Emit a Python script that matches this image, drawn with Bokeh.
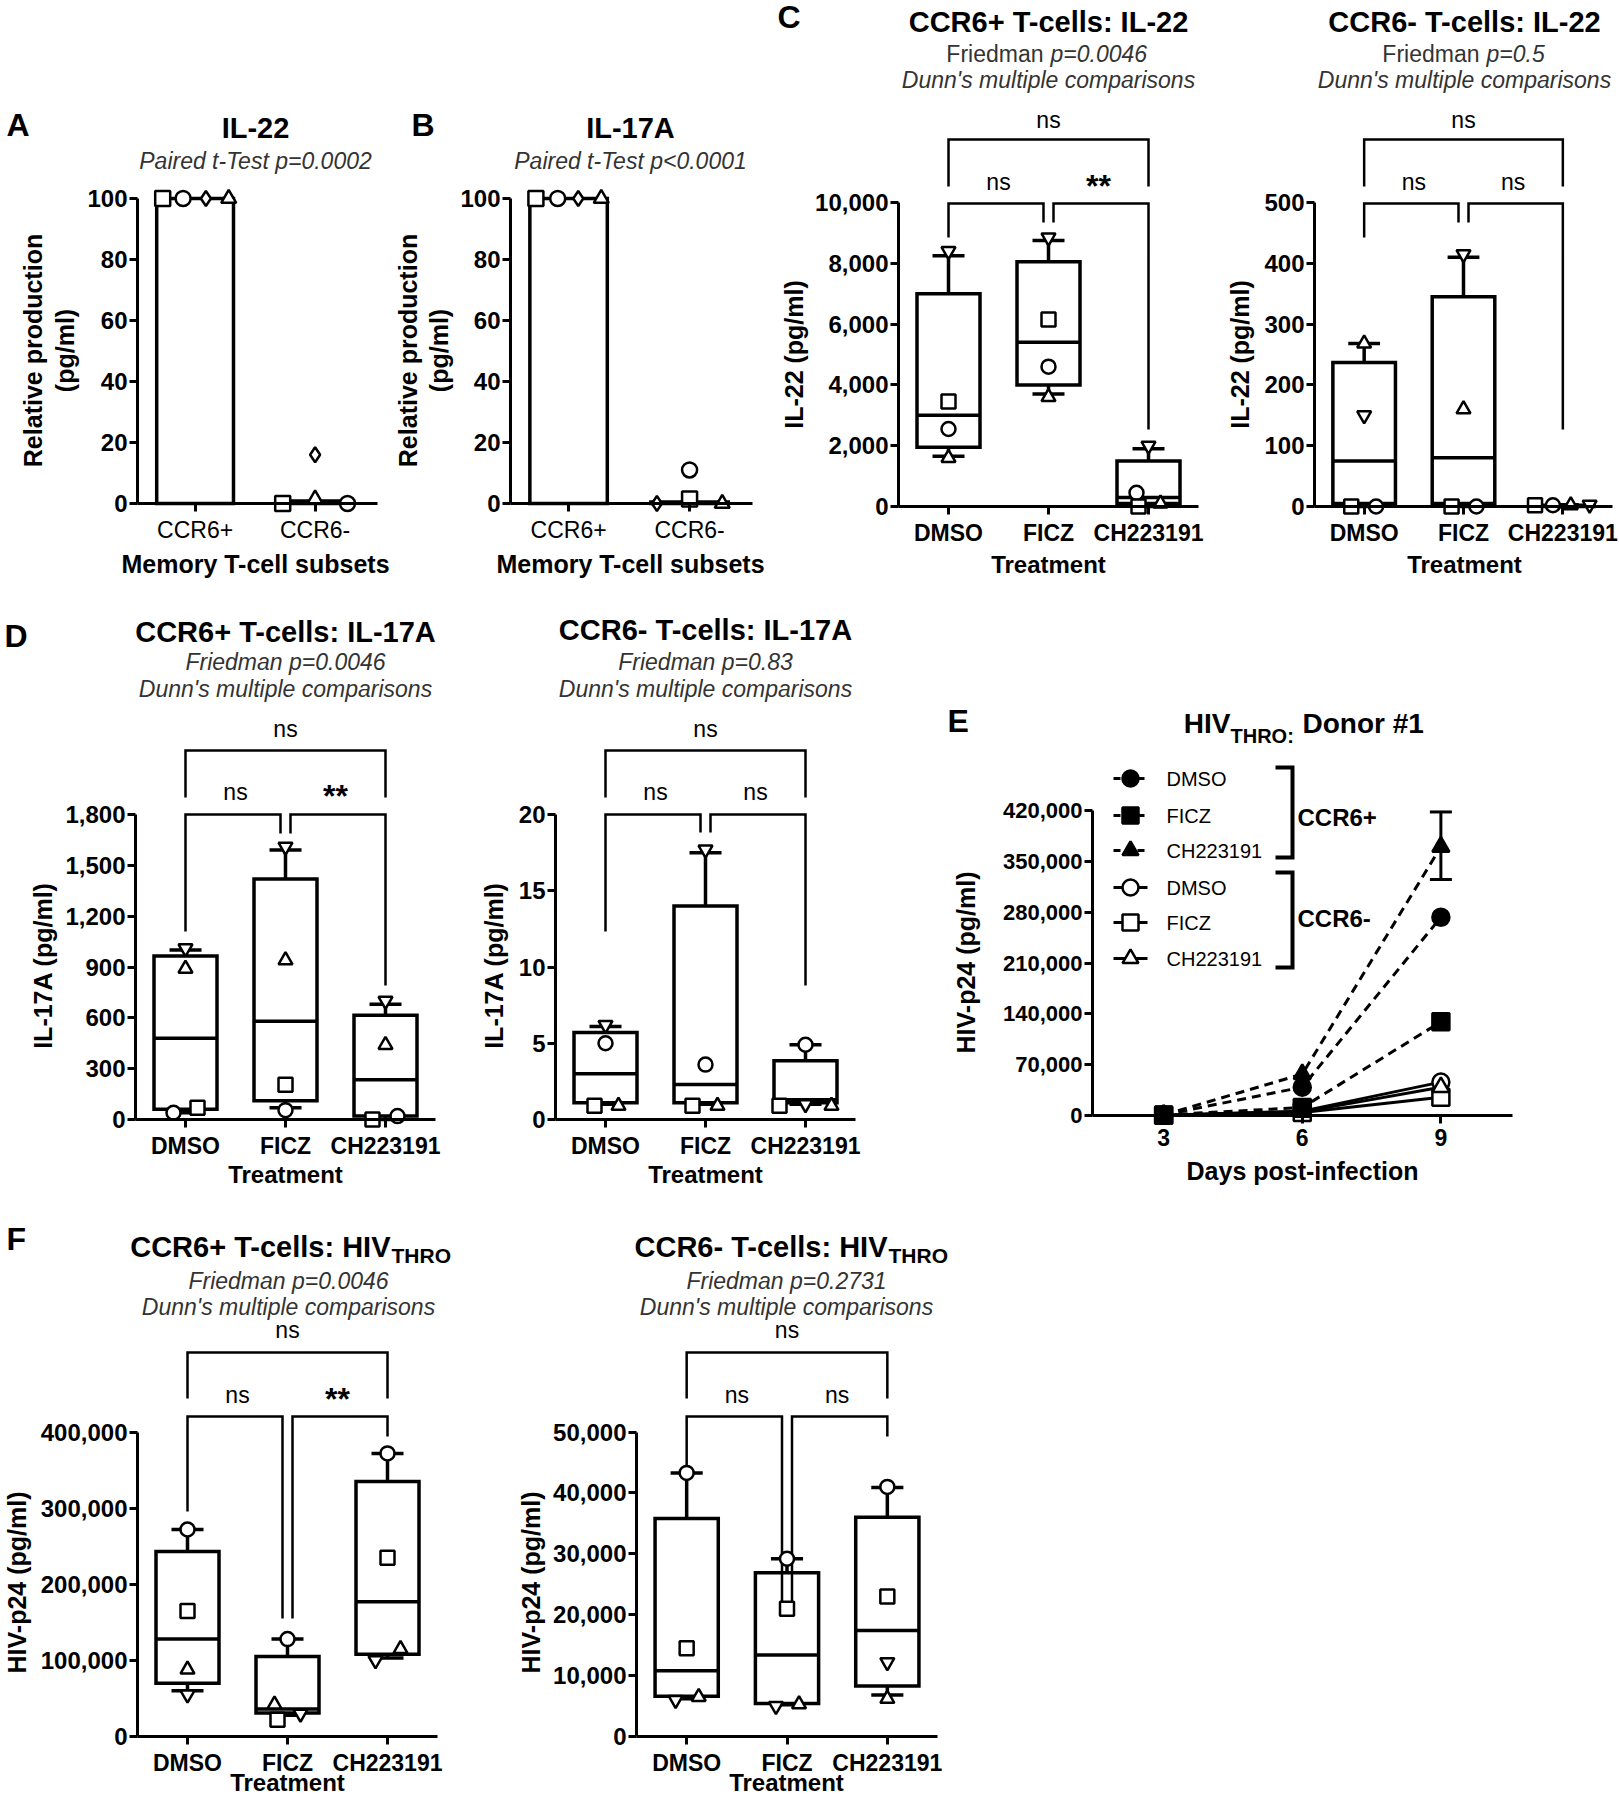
import math
from bokeh.plotting import figure
from bokeh.models import Range1d, FixedTicker, NumeralTickFormatter, Label, ColumnDataSource
from bokeh.layouts import row, column
from bokeh.embed import file_html
from bokeh.resources import INLINE

FONT = "Liberation Sans"
INK = "black"
SUB = "#333333"

# ======================= DATA =======================
# Panels A / B : relative production (% of CCR6+)
subsets = ["CCR6+", "CCR6-"]
subset_markers = ["square", "circle", "diamond", "triangle"]
il22_rel_ccr6pos = [100, 100, 100, 100]
il22_rel_ccr6neg = [0, 0, 16, 1.5]
il22_rel_bars = [100, 0.8]
il17a_rel_ccr6pos = [100, 100, 100, 100]
il17a_rel_ccr6neg = [1.5, 11, 0, 0]
il17a_rel_bars = [100, 0.5]

# Box panels: donors = circle, square, triangle, inverted triangle
treatments = ["DMSO", "FICZ", "CH223191"]
donor_markers = ["circle", "square", "triangle", "inverted_triangle"]

# C: IL-22 (pg/ml)
il22_ccr6pos_dmso = [2550, 3450, 1600, 8400]
il22_ccr6pos_ficz = [4600, 6150, 3600, 8850]
il22_ccr6pos_ch = [450, 0, 100, 2000]
il22_ccr6pos_box = [[1650, 1950, 3000, 7000, 8250],   # min, q1, median, q3, max
                    [3700, 4000, 5400, 8050, 8750],
                    [0, 100, 300, 1500, 1900]]
il22_ccr6neg_dmso = [0, 0, 268, 150]
il22_ccr6neg_ficz = [0, 0, 160, 415]
il22_ccr6neg_ch = [2, 2, 2, 3]
il22_ccr6neg_box = [[0, 5, 75, 237, 268],
                    [0, 5, 80, 345, 410],
                    [0, 0, 1, 2, 3]]

# D: IL-17A (pg/ml)
il17_ccr6pos_dmso = [40, 70, 890, 1010]
il17_ccr6pos_ficz = [55, 205, 940, 1610]
il17_ccr6pos_ch = [20, 0, 440, 700]
il17_ccr6pos_box = [[40, 60, 480, 965, 1000],
                    [70, 110, 580, 1420, 1590],
                    [0, 20, 235, 615, 680]]
il17_ccr6neg_dmso = [5.0, 0.9, 0.9, 6.2]
il17_ccr6neg_ficz = [3.6, 0.9, 0.9, 17.7]
il17_ccr6neg_ch = [4.9, 0.9, 0.9, 1.0]
il17_ccr6neg_box = [[1.0, 1.1, 3.0, 5.7, 6.1],
                    [1.0, 1.1, 2.3, 14.0, 17.5],
                    [1.0, 1.1, 1.3, 3.85, 4.9]]

# E: HIV-p24 kinetics, donor #1
days = [3, 6, 9]
hiv_ccr6pos_dmso = [800, 39000, 273000]
hiv_ccr6pos_ficz = [800, 11000, 129000]
hiv_ccr6pos_ch = [800, 57000, 370000]
hiv_ccr6pos_ch_day9_range = [325000, 418000]
hiv_ccr6neg_dmso = [500, 6000, 46000]
hiv_ccr6neg_ficz = [500, 4000, 25000]
hiv_ccr6neg_ch = [500, 5000, 39000]

# F: HIV-p24 (pg/ml)
hiv_ccr6pos_pts_dmso = [272000, 165000, 88000, 55000]
hiv_ccr6pos_pts_ficz = [128000, 22000, 42000, 30000]
hiv_ccr6pos_pts_ch = [372000, 235000, 115000, 100000]
hiv_ccr6pos_box = [[60000, 70000, 128000, 243000, 272000],
                   [28000, 31000, 36000, 105000, 128000],
                   [103000, 108000, 177000, 335000, 372000]]
hiv_ccr6neg_pts_dmso = [43300, 14500, 6500, 6000]
hiv_ccr6neg_pts_ficz = [29200, 21000, 5300, 5000]
hiv_ccr6neg_pts_ch = [41000, 23000, 6200, 12200]
hiv_ccr6neg_box = [[6200, 6600, 10800, 35800, 43300],
                   [5200, 5400, 13400, 26900, 29200],
                   [6800, 8300, 17400, 36000, 40900]]

# ======================= LAYOUT HELPERS =======================
class Geo:
    """Figure box (fl..fr, top..bot) in page pixels; the axis region spans xl..xr
    (data x0..x1); `axis` is the pixel row of y = 0, ppu = pixels per y unit."""
    def __init__(s, fl, fr, top, bot, xl, xr, axis, ppu, xrange):
        s.fl, s.fr, s.top, s.bot, s.xl, s.xr = fl, fr, top, bot, xl, xr
        s.axis, s.ppu = axis, ppu
        s.x0, s.x1 = xrange

    def X(s, px):
        return s.x0 + (px - s.xl) * (s.x1 - s.x0) / (s.xr - s.xl)

    def Y(s, py):
        return (s.axis - py) / s.ppu

    def dx(s, px):
        return px * (s.x1 - s.x0) / (s.xr - s.xl)

    def fig(s):
        p = figure(width=s.fr - s.fl, height=s.bot - s.top,
                   x_range=Range1d(s.X(s.fl), s.X(s.fr)),
                   y_range=Range1d(s.Y(s.bot), s.Y(s.top)),
                   output_backend="svg", toolbar_location=None, title=None,
                   min_border_left=0, min_border_right=0,
                   min_border_top=0, min_border_bottom=0)
        p.outline_line_color = None
        p.grid.visible = False
        p.background_fill_color = "white"
        p.border_fill_color = "white"
        return p


def T(p, g, px, py, text, size, style="normal", align="center", color=INK, angle=0.0):
    p.add_layout(Label(x=g.X(px), y=g.Y(py), text=text, text_font=FONT,
                       text_font_size=f"{size}px", text_font_style=style,
                       text_align=align, text_baseline="middle", text_color=color,
                       angle=angle))


def axes(p, g, yticks, xticks, xlabels, ysize=24, xsize=23, xstyle="bold", tick_out=8,
         ystandoff=2):
    p.xaxis.fixed_location = 0
    p.yaxis.fixed_location = g.x0
    p.xaxis.bounds = (g.x0, g.x1)
    p.xaxis.ticker = FixedTicker(ticks=xticks)
    if xlabels is not None:
        ov = {}
        for t, l in zip(xticks, xlabels):
            ov[t] = l
            ov[str(t)] = l
        p.xaxis.major_label_overrides = ov
    p.yaxis.ticker = FixedTicker(ticks=yticks)
    p.yaxis.bounds = (0, yticks[-1])
    p.yaxis.formatter = NumeralTickFormatter(format="0,0")
    for ax in (p.xaxis[0], p.yaxis[0]):
        ax.axis_line_width = 3
        ax.axis_line_color = INK
        ax.major_tick_line_width = 3
        ax.major_tick_line_color = INK
        ax.major_tick_out = tick_out
        ax.major_tick_in = 0
        ax.minor_tick_line_color = None
        ax.axis_label = None
        ax.major_label_text_color = INK
        ax.major_label_text_font = FONT
    p.yaxis.major_label_text_font_size = f"{ysize}px"
    p.yaxis.major_label_text_font_style = "bold"
    p.yaxis.major_label_standoff = ystandoff
    p.xaxis.major_label_text_font_size = f"{xsize}px"
    p.xaxis.major_label_text_font_style = xstyle
    p.xaxis.major_label_standoff = 5


def brackets(p, g, spec, labels):
    top_y, top_leg, top_text, sec_y, leg_l, leg_m, leg_r, sec_text = spec
    gap = g.dx(5)
    Y = g.Y
    xs = [[1, 1, 3, 3], [1, 1, 2 - gap, 2 - gap], [2 + gap, 2 + gap, 3, 3]]
    ys = [[Y(top_leg), Y(top_y), Y(top_y), Y(top_leg)],
          [Y(leg_l), Y(sec_y), Y(sec_y), Y(leg_m)],
          [Y(leg_m), Y(sec_y), Y(sec_y), Y(leg_r)]]
    p.multi_line(xs, ys, line_color=INK, line_width=2.5, line_join="miter")
    for (cx, ty), lab in zip([(2, top_text), (1.5, sec_text), (2.5, sec_text)], labels):
        if lab == "ns":
            p.add_layout(Label(x=cx, y=Y(ty), text=lab, text_font=FONT, text_font_size="23px",
                               text_align="center", text_baseline="middle", text_color=INK))
        else:
            p.add_layout(Label(x=cx, y=Y(ty + 4), text=lab, text_font=FONT, text_font_size="32px",
                               text_font_style="bold", text_align="center",
                               text_baseline="middle", text_color=INK))


def box_panel(g, values, offsets, stats, yticks, bspec, blabels):
    p = g.fig()
    axes(p, g, yticks, [1, 2, 3], treatments)
    cats = [i + 1 for i in range(len(treatments))]
    mn = [s[0] for s in stats]
    q1 = [s[1] for s in stats]
    md = [s[2] for s in stats]
    q3 = [s[3] for s in stats]
    mx = [s[4] for s in stats]
    hw, cw = 0.315, 0.16
    lw = 3.5
    p.segment(x0=cats, y0=q3, x1=cats, y1=mx, line_color=INK, line_width=lw)
    p.segment(x0=cats, y0=q1, x1=cats, y1=mn, line_color=INK, line_width=lw)
    p.segment(x0=[c - cw for c in cats], y0=mx, x1=[c + cw for c in cats], y1=mx,
              line_color=INK, line_width=lw)
    p.segment(x0=[c - cw for c in cats], y0=mn, x1=[c + cw for c in cats], y1=mn,
              line_color=INK, line_width=lw)
    p.quad(left=[c - hw for c in cats], right=[c + hw for c in cats], bottom=q1, top=q3,
           fill_color="white", line_color=INK, line_width=lw, line_join="miter")
    p.segment(x0=[c - hw for c in cats], y0=md, x1=[c + hw for c in cats], y1=md,
              line_color=INK, line_width=lw)
    brackets(p, g, bspec, blabels)
    xs, ys, ms = [], [], []
    for ci, (vals, offs) in enumerate(zip(values, offsets)):
        for v, o, m in zip(vals, offs, donor_markers):
            xs.append(cats[ci] + o)
            ys.append(v)
            ms.append(m)
    src = ColumnDataSource(dict(x=xs, y=ys, m=ms))
    p.scatter("x", "y", marker="m", source=src, size=14, fill_color="white",
              line_color=INK, line_width=2.5)
    return p


def rel_panel(g, bars, pos, neg, offs_pos, offs_neg):
    p = g.fig()
    axes(p, g, [0, 20, 40, 60, 80, 100], [1, 2], subsets, xstyle="normal", ysize=24)
    cats = [i + 1 for i in range(len(subsets))]
    p.quad(left=[c - 0.32 for c in cats], right=[c + 0.32 for c in cats],
           bottom=[0, 0], top=bars, fill_color="white", line_color=INK, line_width=3.5,
           line_join="miter")
    xs = [cats[0] + o for o in offs_pos] + [cats[1] + o for o in offs_neg]
    ys = list(pos) + list(neg)
    ms = subset_markers + subset_markers
    src = ColumnDataSource(dict(x=xs, y=ys, m=ms))
    p.scatter("x", "y", marker="m", source=src, size=15, fill_color="white",
              line_color=INK, line_width=2.5)
    return p


VERT = math.pi / 2
LETTER = 32

# ---------------- Row 1 (page y 0..598) ----------------
gA = Geo(0, 390, 0, 598, 137, 377, 503, 3.05, (0.52, 2.52))
pA = rel_panel(gA, il22_rel_bars, il22_rel_ccr6pos, il22_rel_ccr6neg,
               [-0.27, -0.10, 0.09, 0.28], [-0.27, 0.27, 0.0, 0.0])
T(pA, gA, 6, 124, "A", LETTER, "bold", "left")
T(pA, gA, 255, 127, "IL-22", 29, "bold")
T(pA, gA, 255, 160, "Paired t-Test p=0.0002", 23, "italic", color=SUB)
T(pA, gA, 32, 350, "Relative production", 25, "bold", angle=VERT)
T(pA, gA, 64, 350, "(pg/ml)", 25, "bold", angle=VERT)
T(pA, gA, 255, 563, "Memory T-cell subsets", 25, "bold")

gB = Geo(390, 772, 0, 598, 510, 752, 503, 3.05, (0.52, 2.52))
pB = rel_panel(gB, il17a_rel_bars, il17a_rel_ccr6pos, il17a_rel_ccr6neg,
               [-0.27, -0.09, 0.08, 0.27], [0.0, 0.0, -0.27, 0.27])
T(pB, gB, 411, 124, "B", LETTER, "bold", "left")
T(pB, gB, 630, 127, "IL-17A", 29, "bold")
T(pB, gB, 630, 160, "Paired t-Test p<0.0001", 23, "italic", color=SUB)
T(pB, gB, 407, 350, "Relative production", 25, "bold", angle=VERT)
T(pB, gB, 438, 350, "(pg/ml)", 25, "bold", angle=VERT)
T(pB, gB, 630, 563, "Memory T-cell subsets", 25, "bold")

gC1 = Geo(772, 1206, 0, 598, 898, 1198, 506, 0.0304, (0.5, 3.5))
pC1 = box_panel(gC1, [il22_ccr6pos_dmso, il22_ccr6pos_ficz, il22_ccr6pos_ch],
                [[0, 0, 0, 0], [0, 0, 0, 0], [-0.12, -0.1, 0.12, 0]],
                il22_ccr6pos_box, [0, 2000, 4000, 6000, 8000, 10000],
                (139, 186, 119, 203, 237, 222, 429, 181), ["ns", "ns", "**"])
T(pC1, gC1, 777, 16, "C", LETTER, "bold", "left")
T(pC1, gC1, 1048, 21, "CCR6+ T-cells: IL-22", 29, "bold")
T(pC1, gC1, 1043, 53, "Friedman", 23, "normal", "right", color=SUB)
T(pC1, gC1, 1050, 53, "p=0.0046", 23, "italic", "left", color=SUB)
T(pC1, gC1, 1048, 79, "Dunn's multiple comparisons", 23, "italic", color=SUB)
T(pC1, gC1, 793, 354, "IL-22 (pg/ml)", 25, "bold", angle=VERT)
T(pC1, gC1, 1048, 564, "Treatment", 24, "bold")

gC2 = Geo(1206, 1619, 0, 598, 1314, 1612, 506, 0.608, (0.5, 3.5))
pC2 = box_panel(gC2, [il22_ccr6neg_dmso, il22_ccr6neg_ficz, il22_ccr6neg_ch],
                [[0.12, -0.13, 0, 0], [0.13, -0.12, 0, 0], [-0.1, -0.28, 0.08, 0.27]],
                il22_ccr6neg_box, [0, 100, 200, 300, 400, 500],
                (139, 186, 119, 203, 237, 222, 429, 181), ["ns", "ns", "ns"])
T(pC2, gC2, 1464, 21, "CCR6- T-cells: IL-22", 29, "bold")
T(pC2, gC2, 1479, 53, "Friedman", 23, "normal", "right", color=SUB)
T(pC2, gC2, 1486, 53, "p=0.5", 23, "italic", "left", color=SUB)
T(pC2, gC2, 1464, 79, "Dunn's multiple comparisons", 23, "italic", color=SUB)
T(pC2, gC2, 1239, 354, "IL-22 (pg/ml)", 25, "bold", angle=VERT)
T(pC2, gC2, 1464, 564, "Treatment", 24, "bold")

# ---------------- Row 2 (page y 598..1200) ----------------
gD1 = Geo(0, 450, 598, 1200, 135, 435, 1119, 305 / 1800, (0.5, 3.5))
pD1 = box_panel(gD1, [il17_ccr6pos_dmso, il17_ccr6pos_ficz, il17_ccr6pos_ch],
                [[-0.12, 0.12, 0, 0], [0, 0, 0, 0], [0.12, -0.13, 0, 0]],
                il17_ccr6pos_box, [0, 300, 600, 900, 1200, 1500, 1800],
                (750, 797, 728, 814, 931, 833, 985, 791), ["ns", "ns", "**"])
T(pD1, gD1, 4, 635, "D", LETTER, "bold", "left")
T(pD1, gD1, 285, 631, "CCR6+ T-cells: IL-17A", 29, "bold")
T(pD1, gD1, 285, 661, "Friedman p=0.0046", 23, "italic", color=SUB)
T(pD1, gD1, 285, 688, "Dunn's multiple comparisons", 23, "italic", color=SUB)
T(pD1, gD1, 42, 965, "IL-17A (pg/ml)", 25, "bold", angle=VERT)
T(pD1, gD1, 285, 1174, "Treatment", 24, "bold")

gD2 = Geo(450, 880, 598, 1200, 555, 855, 1119, 305 / 20, (0.5, 3.5))
pD2 = box_panel(gD2, [il17_ccr6neg_dmso, il17_ccr6neg_ficz, il17_ccr6neg_ch],
                [[0, -0.11, 0.13, 0], [0, -0.13, 0.12, 0], [0, -0.26, 0.26, 0]],
                il17_ccr6neg_box, [0, 5, 10, 15, 20],
                (750, 797, 728, 814, 931, 832, 985, 791), ["ns", "ns", "ns"])
T(pD2, gD2, 705, 629, "CCR6- T-cells: IL-17A", 29, "bold")
T(pD2, gD2, 705, 661, "Friedman p=0.83", 23, "italic", color=SUB)
T(pD2, gD2, 705, 688, "Dunn's multiple comparisons", 23, "italic", color=SUB)
T(pD2, gD2, 493, 965, "IL-17A (pg/ml)", 25, "bold", angle=VERT)
T(pD2, gD2, 705, 1174, "Treatment", 24, "bold")

# Panel E
gE = Geo(880, 1619, 598, 1200, 1092, 1512, 1115, 305 / 420000, (1.46, 10.55))
pE = gE.fig()
axes(pE, gE, [0, 70000, 140000, 210000, 280000, 350000, 420000], days, None,
     ysize=22, xsize=23, tick_out=8)
series = [
    (hiv_ccr6pos_dmso, "circle", True, "DMSO"),
    (hiv_ccr6pos_ficz, "square", True, "FICZ"),
    (hiv_ccr6pos_ch, "triangle", True, "CH223191"),
    (hiv_ccr6neg_dmso, "circle", False, "DMSO"),
    (hiv_ccr6neg_ficz, "square", False, "FICZ"),
    (hiv_ccr6neg_ch, "triangle", False, "CH223191"),
]
for vals, mk, pos, name in series[3:] + series[:3]:
    dash = "9 6" if pos else "solid"
    pE.line(days, vals, line_color=INK, line_width=3, line_dash=dash)
pE.segment(x0=[days[2]], y0=[hiv_ccr6pos_ch_day9_range[0]], x1=[days[2]],
           y1=[hiv_ccr6pos_ch_day9_range[1]], line_color=INK, line_width=3)
cap = gE.dx(11)
pE.segment(x0=[days[2] - cap] * 2, y0=hiv_ccr6pos_ch_day9_range,
           x1=[days[2] + cap] * 2, y1=hiv_ccr6pos_ch_day9_range, line_color=INK, line_width=3)
for vals, mk, pos, name in series[3:] + series[:3]:
    pE.scatter(days, vals, marker=mk, size=17, fill_color=INK if pos else "white",
               line_color=INK, line_width=2.5)
legend_rows = [778, 815, 850, 887, 922, 958]
for (vals, mk, pos, name), ry in zip(series, legend_rows):
    pE.line([gE.X(1113), gE.X(1147)], [gE.Y(ry), gE.Y(ry)], line_color=INK, line_width=3,
            line_dash="7 5" if pos else "solid")
    pE.scatter([gE.X(1130)], [gE.Y(ry)], marker=mk, size=16, fill_color=INK if pos else "white",
               line_color=INK, line_width=2.5)
    T(pE, gE, 1166, ry, name, 20, "normal", "left")
for y0, y1, lab, ly in [(767, 857, "CCR6+", 817), (872, 967, "CCR6-", 918)]:
    pE.line([gE.X(1275), gE.X(1292), gE.X(1292), gE.X(1275)],
            [gE.Y(y0), gE.Y(y0), gE.Y(y1), gE.Y(y1)], line_color=INK, line_width=4,
            line_join="miter")
    T(pE, gE, 1297, ly, lab, 24, "bold", "left")
T(pE, gE, 947, 720, "E", LETTER, "bold", "left")
T(pE, gE, 1230, 723, "HIV", 28, "bold", "right")
T(pE, gE, 1230, 735, "THRO:", 20, "bold", "left")
T(pE, gE, 1302, 723, "Donor #1", 28, "bold", "left")
T(pE, gE, 965, 962, "HIV-p24 (pg/ml)", 25, "bold", angle=VERT)
T(pE, gE, 1302, 1170, "Days post-infection", 25, "bold")

# ---------------- Row 3 (page y 1200..1798) ----------------
gF1 = Geo(0, 470, 1200, 1798, 137, 437, 1736, 304.4 / 400000, (0.5, 3.5))
pF1 = box_panel(gF1, [hiv_ccr6pos_pts_dmso, hiv_ccr6pos_pts_ficz, hiv_ccr6pos_pts_ch],
                [[0, 0, 0, 0], [0, -0.1, -0.13, 0.13], [0, 0, 0.13, -0.12]],
                hiv_ccr6pos_box, [0, 100000, 200000, 300000, 400000],
                (1352, 1398, 1329, 1416, 1511, 1618, 1436, 1394),
                ["ns", "ns", "**"])
T(pF1, gF1, 6, 1238, "F", LETTER, "bold", "left")
T(pF1, gF1, 390, 1246, "CCR6+ T-cells: HIV", 29, "bold", "right")
T(pF1, gF1, 391, 1255, "THRO", 21, "bold", "left")
T(pF1, gF1, 288, 1280, "Friedman p=0.0046", 23, "italic", color=SUB)
T(pF1, gF1, 288, 1306, "Dunn's multiple comparisons", 23, "italic", color=SUB)
T(pF1, gF1, 16, 1582, "HIV-p24 (pg/ml)", 25, "bold", angle=VERT)
T(pF1, gF1, 287, 1782, "Treatment", 24, "bold")

gF2 = Geo(470, 960, 1200, 1798, 636, 937, 1736, 304.4 / 50000, (0.5, 3.5))
pF2 = box_panel(gF2, [hiv_ccr6neg_pts_dmso, hiv_ccr6neg_pts_ficz, hiv_ccr6neg_pts_ch],
                [[0, 0, 0.12, -0.11], [0, 0, 0.12, -0.11], [0, 0, 0, 0]],
                hiv_ccr6neg_box, [0, 10000, 20000, 30000, 40000, 50000],
                (1352, 1398, 1329, 1416, 1466, 1616, 1436, 1394),
                ["ns", "ns", "ns"])
T(pF2, gF2, 887, 1246, "CCR6- T-cells: HIV", 29, "bold", "right")
T(pF2, gF2, 888, 1255, "THRO", 21, "bold", "left")
T(pF2, gF2, 786, 1280, "Friedman p=0.2731", 23, "italic", color=SUB)
T(pF2, gF2, 786, 1306, "Dunn's multiple comparisons", 23, "italic", color=SUB)
T(pF2, gF2, 530, 1582, "HIV-p24 (pg/ml)", 25, "bold", angle=VERT)
T(pF2, gF2, 786, 1782, "Treatment", 24, "bold")

layout = column(row(pA, pB, pC1, pC2), row(pD1, pD2, pE), row(pF1, pF2))
open("out.html", "w").write(file_html(layout, INLINE, title="CCR6 T-cells: IL-22, IL-17A and HIV"))
